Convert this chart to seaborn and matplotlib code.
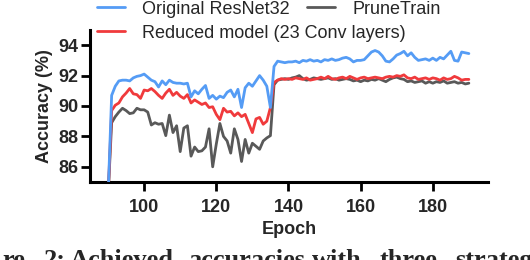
import matplotlib
matplotlib.use("Agg")
import matplotlib.pyplot as plt
import numpy as np
import pandas as pd
import seaborn as sns

epochs = list(range(90, 191))

original_resnet32 = [
    84.0,
    90.7, 91.3, 91.65, 91.7, 91.7, 91.65, 91.85, 91.95, 92.0, 92.1,
    91.9, 91.7, 91.6, 91.25, 91.65, 91.4, 91.7, 91.55, 91.5, 91.5,
    91.45, 91.5, 90.6, 91.0, 90.8, 91.1, 91.35, 90.5, 90.7, 90.45,
    90.65, 90.55, 90.9, 91.05, 90.6, 91.1, 89.9, 91.2, 91.5, 91.3,
    91.65, 92.0, 91.7, 91.3, 89.9, 92.6, 92.95, 92.9, 92.85, 92.9,
    92.9, 92.95, 92.85, 93.0, 92.95, 93.05, 92.95, 93.0, 92.9, 93.05,
    93.0, 93.1, 93.0, 93.05, 93.15, 93.2, 93.1, 92.9, 93.0, 93.0,
    93.05, 93.3, 93.55, 93.65, 93.55, 93.3, 92.95, 92.9, 93.1, 93.35,
    93.45, 93.6, 93.3, 93.5, 93.2, 93.0, 93.05, 93.1, 93.0, 93.15,
    93.0, 93.2, 93.1, 93.35, 93.6, 93.0, 92.95, 93.55, 93.5, 93.45,
]

reduced_model = [
    84.0,
    89.7, 90.05, 90.2, 90.6, 90.85, 91.15, 90.8, 90.75, 90.5, 91.05,
    91.0, 91.15, 90.95, 90.7, 90.5, 90.85, 91.1, 90.7, 90.9, 90.65,
    90.5, 90.75, 90.2, 90.4, 90.25, 90.1, 90.2, 89.9, 89.95, 89.45,
    89.1, 89.85, 89.6, 89.65, 89.35, 89.55, 89.3, 89.45, 88.85, 88.25,
    89.15, 89.25, 88.8, 89.0, 89.9, 91.55, 91.7, 91.8, 91.75, 91.8,
    91.75, 91.85, 91.8, 91.75, 91.85, 91.7, 91.75, 91.8, 91.9, 91.8,
    91.95, 91.8, 91.75, 91.85, 91.9, 91.8, 91.95, 91.85, 91.75, 91.85,
    91.9, 91.8, 91.85, 91.9, 91.85, 91.8, 91.9, 91.95, 91.9, 92.0,
    91.95, 92.05, 91.85, 91.8, 91.9, 91.75, 91.8, 91.85, 91.75, 91.85,
    91.8, 91.7, 91.85, 91.75, 91.8, 91.95, 91.85, 91.7, 91.75, 91.75,
]

prunetrain = [
    84.0,
    88.9, 89.3, 89.6, 89.85, 89.7, 89.5, 89.55, 89.85, 89.75, 89.75,
    89.6, 88.75, 88.9, 88.8, 88.85, 88.05, 89.4, 88.25, 88.7, 87.0,
    88.55, 88.7, 86.7, 87.3, 87.0, 87.05, 87.3, 88.5, 86.0, 87.5,
    88.85, 88.0, 87.7, 86.9, 88.5, 87.8, 86.35, 87.8, 86.9, 87.55,
    87.35, 87.15, 87.7, 87.9, 88.05, 91.4, 91.7, 91.75, 91.8, 91.75,
    91.85, 91.9, 92.0, 91.8, 91.7, 91.75, 91.85, 91.8, 91.75, 91.8,
    91.85, 91.75, 91.8, 91.7, 91.75, 91.8, 91.75, 91.65, 91.7, 91.6,
    91.7, 91.65, 91.75, 91.7, 91.8, 91.7, 91.6, 91.75, 91.85, 91.9,
    91.8, 91.75, 91.6, 91.65, 91.55, 91.6, 91.65, 91.5, 91.6, 91.5,
    91.6, 91.55, 91.65, 91.5, 91.55, 91.6, 91.5, 91.55, 91.45, 91.5,
]

x_ticks = [100, 120, 140, 160, 180]
y_ticks = [86, 88, 90, 92, 94]

caption_words = ["re", "2:", "Achieved", "accuracies", "with", "three", "strategies"]
caption_x_px = [2, 44, 70, 188, 312, 380, 455]

sns.set_style("ticks")
plt.rcParams["font.family"] = ["Liberation Sans", "DejaVu Sans"]

W, H = 530, 260
fig = plt.figure(figsize=(W / 100, H / 100), dpi=100)
ax = fig.add_axes([90 / W, 1 - 182 / H, (488 - 90) / W, (182 - 30) / H])

df = pd.DataFrame({
    "epoch": epochs,
    "Original ResNet32": original_resnet32,
    "Reduced model (23 Conv layers)": reduced_model,
    "PruneTrain": prunetrain,
})

colors = {
    "Original ResNet32": "#559cf5",
    "Reduced model (23 Conv layers)": "#f03a3c",
    "PruneTrain": "#595959",
}
zorders = {"Original ResNet32": 4, "Reduced model (23 Conv layers)": 3, "PruneTrain": 2}

lines = {}
for name in ["Original ResNet32", "Reduced model (23 Conv layers)", "PruneTrain"]:
    sns.lineplot(data=df, x="epoch", y=name, color=colors[name], linewidth=2.0,
                 ax=ax, zorder=zorders[name], label=name, legend=False)
    lines[name] = ax.lines[-1]

ax.set_xlim(85, 195.3)
ax.set_ylim(85, 95)
ax.set_xticks(x_ticks)
ax.set_yticks(y_ticks)
ax.tick_params(axis="both", length=6.5, width=2.0, labelsize=13, color="black")
ax.tick_params(axis="x", pad=6)
ax.tick_params(axis="y", pad=2)
for lab in ax.get_xticklabels() + ax.get_yticklabels():
    lab.set_fontweight("bold")

for side in ["top", "right"]:
    ax.spines[side].set_visible(False)
for side in ["left", "bottom"]:
    ax.spines[side].set_linewidth(2.2)
    ax.spines[side].set_color("black")

ax.set_xlabel("Epoch", fontsize=13, fontweight="bold", labelpad=3)
ax.set_ylabel("Accuracy (%)", fontsize=13, fontweight="bold", labelpad=4)

leg_kw = dict(frameon=False, fontsize=13, handlelength=1.55, handletextpad=0.95,
              borderpad=0, borderaxespad=0, loc="center left",
              bbox_transform=fig.transFigure)
leg1 = ax.legend([lines["Original ResNet32"], lines["PruneTrain"]],
                 ["Original ResNet32", "PruneTrain"], ncol=2, columnspacing=0.95,
                 bbox_to_anchor=(97 / W, 1 - 9 / H), **leg_kw)
ax.add_artist(leg1)
ax.legend([lines["Reduced model (23 Conv layers)"]], ["Reduced model (23 Conv layers)"],
          bbox_to_anchor=(97 / W, 1 - 33 / H), **leg_kw)

for word, xp in zip(caption_words, caption_x_px):
    fig.text(xp / W, 1 - 267 / H, word, fontsize=19, fontweight="bold",
             family=["Liberation Serif", "DejaVu Serif"], ha="left", va="baseline")

fig.savefig("out.png", dpi=100)
